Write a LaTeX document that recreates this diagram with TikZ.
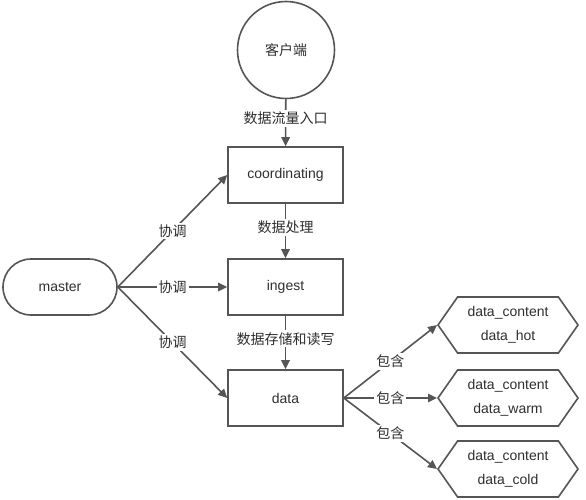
\documentclass[tikz,border=0pt]{standalone}
\usepackage{fontspec}
\setmainfont{Liberation Sans}
\newfontfamily\cjk{Noto Sans CJK SC}
\usetikzlibrary{arrows.meta,shapes.symbols}
\definecolor{linegray}{HTML}{555555}
\definecolor{textgray}{HTML}{2E2E2E}

\begin{document}
\begin{tikzpicture}[x=1pt,y=-1pt,
	every node/.style={font=\fontsize{14}{24}\selectfont, text=textgray},
	box/.style={draw=linegray, line width=1.6pt, minimum width=115pt, minimum height=56pt},
	hexa/.style={shape=signal, signal to=west and east, signal pointer angle=110, draw=linegray, line width=1.6pt, minimum width=140pt, minimum height=56pt, inner sep=0pt, align=center},
	lbl/.style={fill=white, inner sep=2pt},
	conn/.style={draw=linegray, line width=1.6pt, line cap=round, line join=round, -{Triangle[length=9pt,width=8.5pt]}}]
	\useasboundingbox (0,0) rectangle (586,500);
	\node[shape=circle, draw=linegray, line width=1.6pt, minimum size=97pt] (client) at (286,50) {\cjk 客户端};
	\node[box] (coord) at (285.5,175) {coordinating};
	\node[box] (ingest) at (285.5,287) {ingest};
	\node[box] (data) at (285.5,398) {data};
	\node[draw=linegray, line width=1.6pt, rounded corners=28pt, minimum width=114pt, minimum height=56pt] (master) at (60,287) {master};
	\node[hexa] (hot) at (508,325) {data\_content\\data\_hot};
	\node[hexa] (warm) at (508,398) {data\_content\\data\_warm};
	\node[hexa] (cold) at (508,469) {data\_content\\data\_cold};
	\path (client) edge[conn] node[lbl, pos=0.4]{\cjk 数据流量入口} (coord);
	\path (coord) edge[conn] node[lbl, pos=0.43]{\cjk 数据处理} (ingest);
	\path (ingest) edge[conn] node[lbl, pos=0.43]{\cjk 数据存储和读写} (data);
	\path (master.east) edge[conn] node[lbl]{\cjk 协调} (coord.west);
	\path (master.east) edge[conn] node[lbl]{\cjk 协调} (ingest.west);
	\path (master.east) edge[conn] node[lbl]{\cjk 协调} (data.west);
	\path (data.east) edge[conn] node[lbl]{\cjk 包含} (hot.west);
	\path (data.east) edge[conn] node[lbl]{\cjk 包含} (warm.west);
	\path (data.east) edge[conn] node[lbl]{\cjk 包含} (cold.west);
\end{tikzpicture}
\end{document}
